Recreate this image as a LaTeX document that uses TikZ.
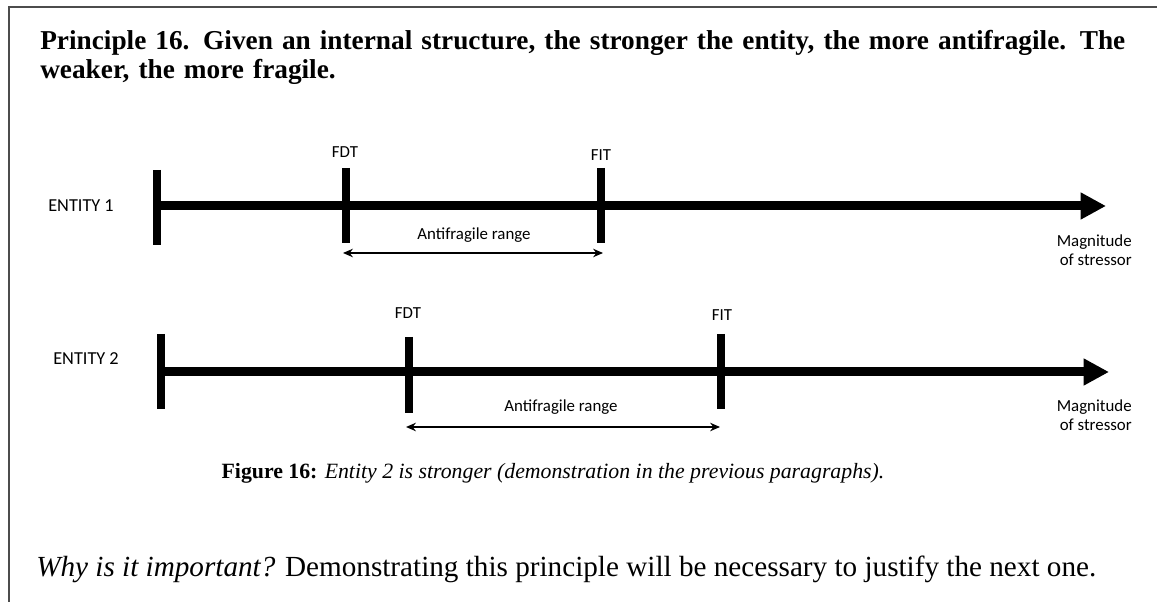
\documentclass[tikz,border=0pt]{standalone}
\usepackage{fontspec}
\setmainfont{Liberation Serif}
\newfontfamily\labelfont{Carlito}
\usetikzlibrary{arrows.meta}

\begin{document}
\begin{tikzpicture}[x=0.025cm,y=-0.025cm,
    axis/.style={line width=6.4pt,-{Triangle[length=18pt,width=18pt]}},
    tickbar/.style={line width=5.7pt},
    rangearrow/.style={line width=1.4pt,{Stealth[length=7pt,width=6pt]}-{Stealth[length=7pt,width=6pt]}},
    lbl/.style={font=\labelfont\fontsize{12}{13.5}\selectfont,inner sep=0pt},
    entity/.style={font=\labelfont\fontsize{13}{15}\selectfont,inner sep=0pt}]
  \useasboundingbox (0,0) rectangle (1157,602);
  % page frame
  \draw[gray!60!black,line width=0.8pt] (1157,7) -- (9,7) -- (9,602);

  % principle statement
  \node[anchor=base west,inner sep=0pt,text width=27.575cm,
        font=\bfseries\fontsize{19.4}{20.4}\selectfont] (title) at (40,50)
    {\makebox[\linewidth][s]{Principle 16. Given an internal structure, the stronger the entity, the more antifragile. The}\\
     weaker, the more fragile.};

  % entity 1
  \coordinate (s1) at (157,206);
  \coordinate (tip1) at (1106,206);
  \coordinate (r1a) at (343,253);
  \coordinate (r1b) at (603,253);
  \node[entity] (ent1) at (81,206) {ENTITY 1};
  \draw[axis] (s1) -- (tip1);
  \draw[tickbar] (157,170) -- (157,245);
  \draw[tickbar] (346,168) -- (346,243);
  \draw[tickbar] (601,168) -- (601,243);
  \node[lbl] (fdt1) at (345,152) {FDT};
  \node[lbl] (fit1) at (601,155) {FIT};
  \node[lbl] (anti1) at (474,235) {Antifragile range};
  \draw[rangearrow] (r1a) -- (r1b);
  \node[lbl,align=right,anchor=east] (mag1) at (1132,250) {Magnitude\\of stressor};

  % entity 2
  \coordinate (s2) at (161,372);
  \coordinate (tip2) at (1109,372);
  \coordinate (r2a) at (406,427);
  \coordinate (r2b) at (720,427);
  \node[entity] (ent2) at (86,359) {ENTITY 2};
  \draw[axis] (s2) -- (tip2);
  \draw[tickbar] (161,334) -- (161,409);
  \draw[tickbar] (409,337) -- (409,413);
  \draw[tickbar] (721,334) -- (721,409);
  \node[lbl] (fdt2) at (408,313) {FDT};
  \node[lbl] (fit2) at (722,315) {FIT};
  \node[lbl] (anti2) at (561,407) {Antifragile range};
  \draw[rangearrow] (r2a) -- (r2b);
  \node[lbl,align=right,anchor=east] (mag2) at (1132,415) {Magnitude\\of stressor};

  % caption and following text
  \node[anchor=base,inner sep=0pt,font=\fontsize{15.5}{18}\selectfont] (cap) at (553,478)
    {\textbf{Figure 16:} \textit{Entity 2 is stronger (demonstration in the previous paragraphs).}};
  \node[anchor=base west,inner sep=0pt,font=\fontsize{20.75}{24}\selectfont] (why) at (36,576)
    {\textit{Why is it important?} Demonstrating this principle will be necessary to justify the next one.};
\end{tikzpicture}
\end{document}
